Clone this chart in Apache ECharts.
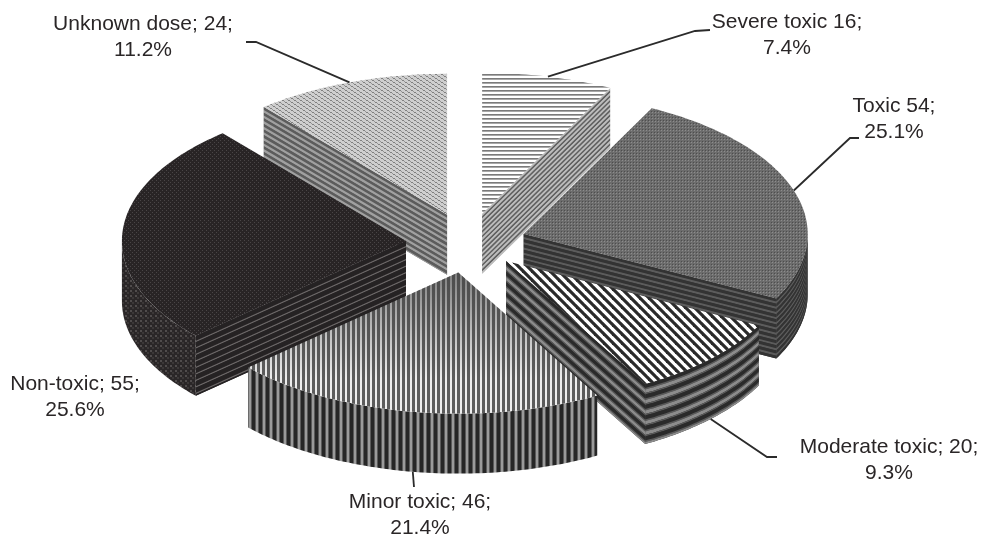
<!DOCTYPE html>
<html><head><meta charset="utf-8">
<style>html,body{margin:0;padding:0;background:#fff}#c{width:983px;height:535px}#c canvas{filter:blur(0.45px)}</style>
<script src="https://cdn.jsdelivr.net/npm/echarts@6/dist/echarts.min.js"></script>
</head><body><div id="c"></div>
<script>
const sliceNames = ['Severe toxic','Toxic','Moderate toxic','Minor toxic','Non-toxic','Unknown dose'];
const sliceValues = [16,54,20,46,55,24];
const labelLines1 = ['Severe toxic 16;','Toxic 54;','Moderate toxic; 20;','Minor toxic; 46;','Non-toxic; 55;','Unknown dose; 24;'];
const labelLines2 = ['7.4%','25.1%','9.3%','21.4%','25.6%','11.2%'];

// layout (styling only, not data)
const PIE = {cx:468, cy:243, rx:284, ry:141, depth:60, exX:61, exY:30};
const explodeFactor = [1,0.96,0.87,1,1.02,1];
const labelAnchor = [[787,35],[894,119],[889,460],[420,515],[75,397],[143,37]];
const leaderElbow = [[[695,31],[710,30]],[[850,138],[859,138]],[[767,457],[777,457]],[[414,487]],null,[[256,42],[246,42]]];

function tile(w,h,draw){const c=document.createElement('canvas');c.width=w;c.height=h;draw(c.getContext('2d'));return {image:c,repeat:'repeat'};}
function px(g,col,x,y,w,h){g.fillStyle=col;g.fillRect(x,y,w,h);}
const topFill = [
  tile(1,4,g=>{px(g,'#ffffff',0,0,1,2);px(g,'#7a7a7a',0,2,1,1);px(g,'#a8a8a8',0,3,1,1);}),
  tile(3,3,g=>{px(g,'#6c6c6c',0,0,3,3);px(g,'#4d4d4d',0,0,1,1);px(g,'#8c8c8c',1,1,1,1);}),
  tile(9,9,g=>{px(g,'#fff',0,0,9,9);g.strokeStyle='#2a2a2a';g.lineWidth=3.2;for(let k=-18;k<=18;k+=9){g.beginPath();g.moveTo(k-5,-5);g.lineTo(k+14,14);g.stroke();}}),
  tile(5,1,g=>{px(g,'#ededed',0,0,2,1);px(g,'#5c5c5c',2,0,3,1);}),
  tile(4,4,g=>{px(g,'#282425',0,0,4,4);px(g,'#494546',0,0,1,1);px(g,'#494546',2,2,1,1);}),
  tile(6,4,g=>{px(g,'#cfcfcf',0,0,6,4);px(g,'#808080',0,0,2,1);px(g,'#808080',3,2,2,1);px(g,'#959595',2,1,1,1);px(g,'#959595',5,3,1,1);})
];
const wallSpec = [
  {widths:[2.4,2.4],colors:['#bdbdbd','#606060']},
  {widths:[3,2.2],colors:['#333333','#5c5c5c']},
  {widths:[4,1.5,3.5,1.5],colors:['#2a2a2a','#5a5a5a','#8c8c8c','#5a5a5a']},
  null,
  {widths:[5,1.5],colors:['#252223','#6a6666']},
  {widths:[2.8,2.8],colors:['#5c5c5c','#a0a0a0']}
];
const outerPattern = [null,null,null,
  tile(7,1,g=>{px(g,'#262626',0,0,3,1);px(g,'#5a5a5a',3,0,1,1);px(g,'#9a9a9a',4,0,2,1);px(g,'#5a5a5a',6,0,1,1);}),
  tile(5,5,g=>{px(g,'#2a2627',0,0,5,5);px(g,'#504c4c',0,0,2,2);px(g,'#3c3838',2,2,2,2);}),
  null];

const total = sliceValues.reduce((a,b)=>a+b,0);
const starts = []; sliceValues.reduce((acc,v,i)=>{starts[i]=acc;return acc+v/total*360;},0);
const rad = d=>d*Math.PI/180;
function sliceCenter(i){
  const mid = rad(starts[i]+sliceValues[i]/total*180), f = explodeFactor[i];
  return [PIE.cx+PIE.exX*f*Math.sin(mid), PIE.cy-PIE.exY*f*Math.cos(mid)];
}
const centersY = sliceValues.map((_,i)=>sliceCenter(i)[1]);
const rank = sliceValues.map((_,i)=>[...centersY].sort((a,b)=>a-b).indexOf(centersY[i]));

function rim(c,a){return [c[0]+PIE.rx*Math.sin(rad(a)), c[1]-PIE.ry*Math.cos(rad(a))];}
function arc(c,a0,a1){const p=[];const n=Math.max(2,Math.ceil(Math.abs(a1-a0)));for(let k=0;k<=n;k++)p.push(rim(c,a0+(a1-a0)*k/n));return p;}
function shifted(line,y0,y1){return line.map(p=>[p[0],p[1]+y0]).concat(line.slice().reverse().map(p=>[p[0],p[1]+y1]));}

function renderSlice(params,api){
  const i = params.dataIndex, value = api.value(0);
  const a0 = starts[i], a1 = a0+value/total*360, c = sliceCenter(i);
  const kids=[]; let z=rank[i]*1000;
  const add=(e)=>{e.z2=++z;e.silent=true;kids.push(e);};
  const poly=(points,fill)=>add({type:'polygon',shape:{points},style:{fill,stroke:null}});
  const strata=(line)=>{
    const s=wallSpec[i]; let y=0,k=0;
    poly(shifted(line,0,PIE.depth),s.colors[0]);
    while(y<PIE.depth){const w=s.widths[k%s.widths.length];poly(shifted(line,y,Math.min(PIE.depth,y+w)),s.colors[k%s.colors.length]);y+=w;k++;}
  };
  if(Math.sin(rad(a1))>1e-6) { if(wallSpec[i]) strata([c,rim(c,a1)]); }
  if(Math.sin(rad(a0))<-1e-6){ if(wallSpec[i]) strata([c,rim(c,a0)]); }
  const f0=Math.max(a0,90), f1=Math.min(a1,270);
  if(f1>f0){
    const line=arc(c,f0,f1);
    if(outerPattern[i]) poly(shifted(line,0,PIE.depth),outerPattern[i]);
    else if(wallSpec[i]) strata(line);
  }
  const top=[c].concat(arc(c,a0,a1));
  poly(top,topFill[i]);
  if(i===3) poly(top,{type:'linear',x:0,y:0,x2:0,y2:1,colorStops:[{offset:0,color:'rgba(70,70,70,0.65)'},{offset:0.75,color:'rgba(70,70,70,0)'}]});
  if(leaderElbow[i]){
    const mid=(a0+a1)/2, p=rim(c,mid);
    if(Math.cos(rad(mid))<0) p[1]+=PIE.depth;
    add({type:'polyline',shape:{points:[p].concat(leaderElbow[i])},style:{stroke:'#2b2b2b',lineWidth:1.8,fill:null}});
  }
  add({type:'text',x:labelAnchor[i][0],y:labelAnchor[i][1],style:{text:labelLines1[i]+'\n'+labelLines2[i],fontSize:21,lineHeight:26.5,fontFamily:'"Liberation Sans",Arial,sans-serif',fill:'#2a2627',align:'center',verticalAlign:'middle'}});
  return {type:'group',children:kids};
}

const chart = echarts.init(document.getElementById('c'),null,{renderer:'canvas'});
chart.setOption({
  animation:false,
  backgroundColor:'#fff',
  series:[{type:'custom',coordinateSystem:'none',renderItem:renderSlice,
    data:sliceValues.map((v,i)=>({name:sliceNames[i],value:[v]}))}]
});
</script></body></html>
